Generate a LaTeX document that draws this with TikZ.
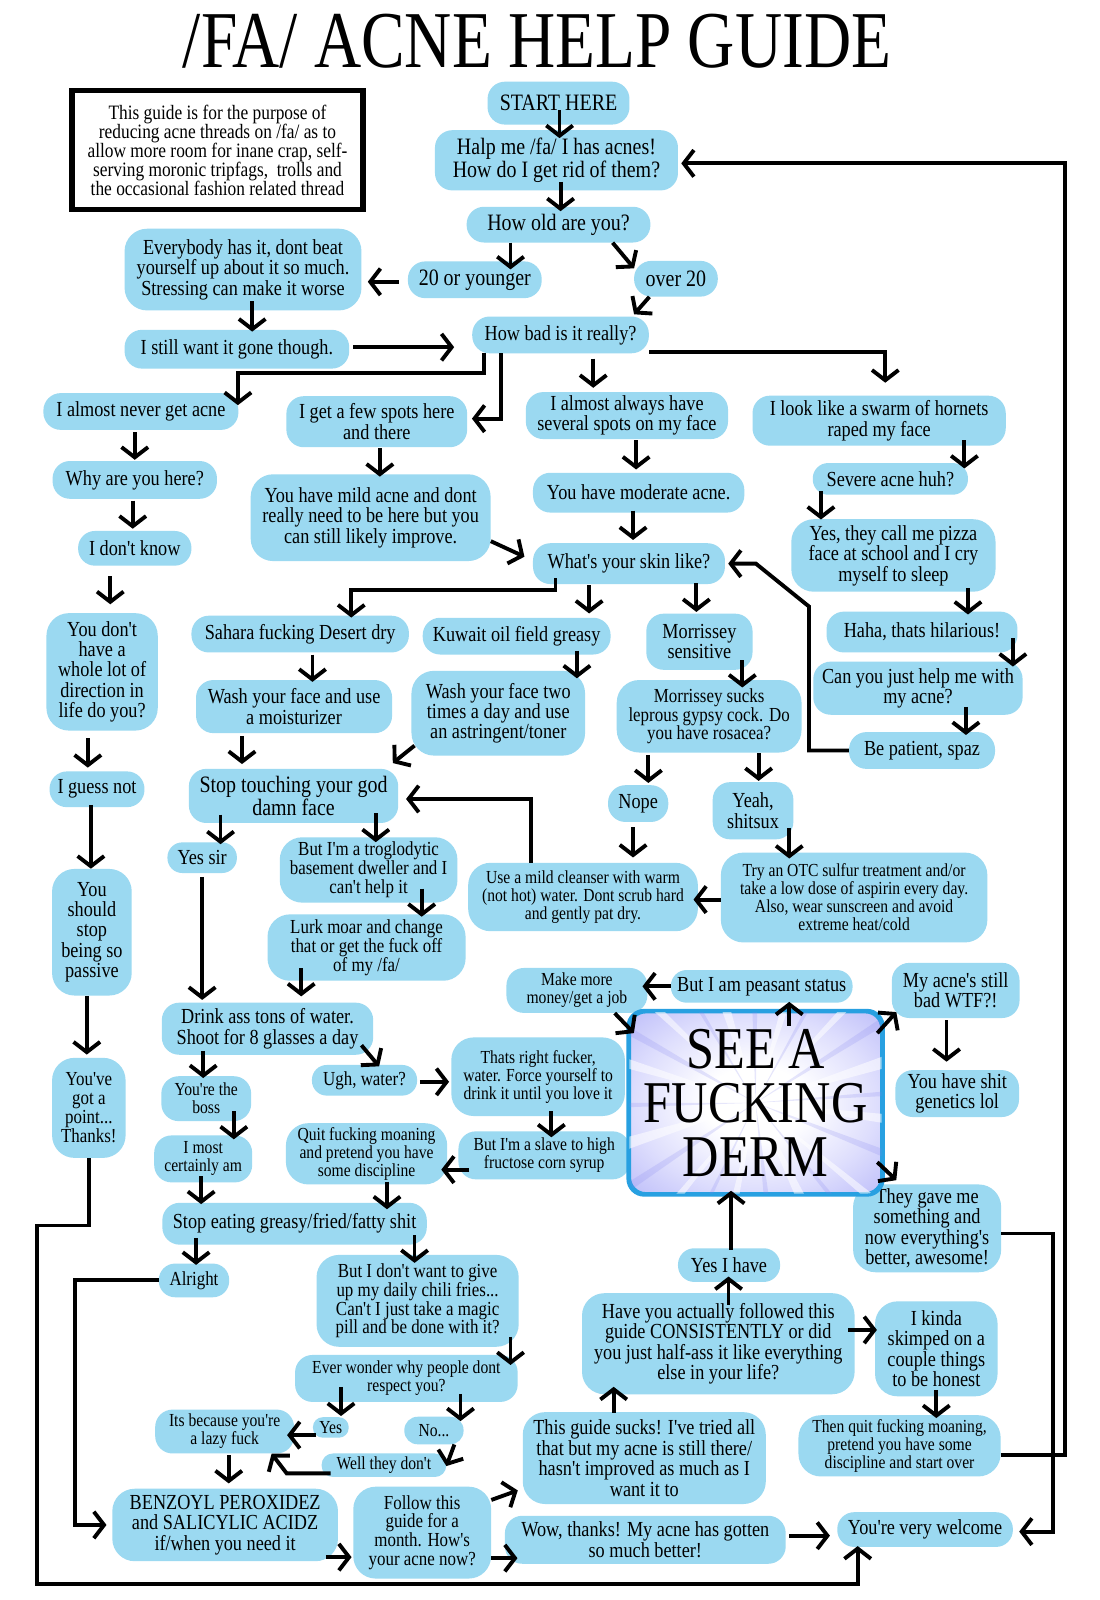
\documentclass[tikz,border=0pt]{standalone}
\usepackage{fontspec}
\setmainfont{Liberation Serif}[FakeStretch=0.85, Ligatures=TeXOff]
\newfontfamily\titlefont{Liberation Serif}[FakeStretch=0.81]
\usetikzlibrary{arrows.meta}
\definecolor{nodeblue}{RGB}{155,217,241}
\definecolor{dermblue}{RGB}{40,160,225}
\definecolor{dermviolet}{RGB}{178,178,248}
\definecolor{dermmid}{RGB}{222,222,253}
\definecolor{dermdeep}{RGB}{130,130,238}
\pgfdeclareradialshading{dermshade}{\pgfpoint{0bp}{0bp}}{color(0bp)=(white); color(10bp)=(white); color(24bp)=(dermmid); color(40bp)=(dermviolet); color(50bp)=(dermviolet)}
\newcommand\fszL{\fontsize{23}{22}\selectfont}
\newcommand\fszR{\fontsize{21}{20}\selectfont}
\newcommand\fszM{\fontsize{19.5}{18.5}\selectfont}
\newcommand\fszS{\fontsize{18}{17.6}\selectfont}
\newcommand\fszI{\fontsize{20}{18.6}\selectfont}
\newcommand\fszD{\fontsize{58}{53}\selectfont}
\newcommand\Bx[8][]{\node[bx,#1,font=#7,minimum width=#5pt,minimum height=#6pt] (#2) at (#3,#4) {#8};}
\newcommand\vArrow[5]{\draw[arr, shorten <=#4pt, shorten >=#5pt] ([xshift=#3pt]#1.south) -- ([xshift=#3pt]#1.south |- #2.north);}
\newcommand\uArrow[5]{\draw[arr, shorten <=#4pt, shorten >=#5pt] ([xshift=#3pt]#1.north) -- ([xshift=#3pt]#1.north |- #2.south);}
\begin{document}
\begin{tikzpicture}[x=1pt,y=-1pt,
  bx/.style={fill=nodeblue, rounded corners=17pt, inner sep=0pt, align=center, text=black},
  big/.style={rounded corners=22pt},
  arr/.style={line width=3.8pt, -{Straight Barb[length=10pt,width=26pt,line width=3.8pt]}}]
\fill[white] (0,0) rectangle (1077,1567);
\useasboundingbox (0,0) rectangle (1077,1567);

% title and info
\node[font=\titlefont\fontsize{79}{79}\selectfont, anchor=base, inner sep=0pt] (title) at (526,66) {/FA/ ACNE HELP GUIDE};
\node[draw, line width=5pt, fill=white, inner sep=0pt, minimum width=285pt, minimum height=116pt, align=center, font=\fszI] (info) at (213,147) {This guide is for the purpose of\\reducing acne threads on /fa/ as to\\allow more room for inane crap, self-\\serving moronic tripfags,\ \ trolls and\\the occasional fashion related thread};

% nodes
\Bx{start}{547}{101}{139}{42}{\fszL}{START HERE}
\Bx{halp}{545}{157}{238}{59}{\fszL}{Halp me /fa/ I has acnes!\\How do I get rid of them?}
\Bx{old}{547}{220}{180}{35}{\fszL}{How old are you?}
\Bx{young}{465}{274}{131}{36}{\fszL}{20 or younger}
\Bx{over}{662}{273}{82}{35}{\fszL}{over 20}
\Bx[big]{every}{238}{264}{232}{80}{\fszR}{Everybody has it, dont beat\\yourself up about it so much.\\Stressing can make it worse}
\Bx{still}{232}{342}{220}{38}{\fszR}{I still want it gone though.}
\Bx{bad}{549}{328}{173}{36}{\fszR}{How bad is it really?}
\Bx{never}{138}{403}{191}{36}{\fszR}{I almost never get acne}
\Bx{few}{369}{413}{177}{50}{\fszR}{I get a few spots here\\and there}
\Bx{always}{614}{407}{198}{46}{\fszR}{I almost always have\\several spots on my face}
\Bx{hornets}{861}{412}{248}{49}{\fszR}{I look like a swarm of hornets\\raped my face}
\Bx{why}{132}{470}{161}{37}{\fszR}{Why are you here?}
\Bx[rounded corners=15pt]{severe}{872}{469}{152}{31}{\fszR}{Severe acne huh?}
\Bx[rounded corners=16.5pt]{dontknow}{132}{537}{111}{34}{\fszR}{I don't know}
\Bx[big]{mild}{363}{507}{235}{85}{\fszR}{You have mild acne and dont\\really need to be here but you\\can still likely improve.}
\Bx{moderate}{625.5}{482.5}{207}{39}{\fszR}{You have moderate acne.}
\Bx[big]{pizza}{875}{544}{200}{71}{\fszR}{Yes, they call me pizza\\face at school and I cry\\myself to sleep}
\Bx{skin}{616}{552}{188}{40}{\fszR}{What's your skin like?}
\Bx{sahara}{294}{621}{213}{36}{\fszR}{Sahara fucking Desert dry}
\Bx{kuwait}{506}{623}{184}{36}{\fszR}{Kuwait oil field greasy}
\Bx{morrissey}{685}{628.5}{104}{55}{\fszR}{Morrissey\\sensitive}
\Bx{haha}{903}{619}{187}{40}{\fszR}{Haha, thats hilarious!}
\Bx[big]{direction}{100}{658}{109}{115}{\fszR}{You don't\\have a\\whole lot of\\direction in\\life do you?}
\Bx{moist}{288}{692}{192}{52}{\fszR}{Wash your face and use\\a moisturizer}
\Bx[big]{twice}{488}{698.5}{170}{83}{\fszR}{Wash your face two\\times a day and use\\an astringent/toner}
\Bx[big]{rosacea}{694.5}{701.5}{181}{71}{\fszM}{Morrissey sucks\\leprous gypsy cock. Do\\you have rosacea?}
\Bx{canyou}{899}{674}{205}{52}{\fszR}{Can you just help me with\\my acne?}
\Bx{patient}{903}{735}{143}{36}{\fszR}{Be patient, spaz}
\Bx{guessnot}{95}{773}{93}{35}{\fszR}{I guess not}
\Bx{touch}{287.5}{779.5}{205}{53}{\fszL}{Stop touching your god\\damn face}
\Bx{nope}{625}{787}{59}{36}{\fszR}{Nope}
\Bx{yeah}{737.5}{794}{79}{56}{\fszR}{Yeah,\\shitsux}
\Bx[rounded corners=14.5pt]{yessir}{198}{840}{68}{30}{\fszR}{Yes sir}
\Bx[big]{troglo}{361}{852}{174}{64}{\fszM}{But I'm a troglodytic\\basement dweller and I\\can't help it}
\Bx[big]{cleanser}{571}{878.5}{225}{67}{\fszS}{Use a mild cleanser with warm\\(not hot) water. Dont scrub hard\\and gently pat dry.}
\Bx[big]{otc}{836.5}{879}{261}{88}{\fszS}{Try an OTC sulfur treatment and/or\\take a low dose of aspirin every day.\\Also, wear sunscreen and avoid\\extreme heat/cold}
\Bx[big]{passive}{90}{913}{78}{124}{\fszR}{You\\should\\stop\\being so\\passive}
\Bx[big]{lurk}{359}{928}{194}{65}{\fszM}{Lurk moar and change\\that or get the fuck off\\of my /fa/}
\Bx{money}{565}{970}{138}{44}{\fszS}{Make more\\money/get a job}
\Bx[rounded corners=15.5pt]{peasant}{746}{966}{178}{32}{\fszR}{But I am peasant status}
\Bx{stillbad}{936}{970}{125}{54}{\fszR}{My acne's still\\bad WTF?!}
\Bx{drink}{262}{1007.5}{207}{51}{\fszR}{Drink ass tons of water.\\Shoot for 8 glasses a day}
\Bx[big]{point}{87}{1085}{72}{98}{\fszM}{You've\\got a\\point...\\Thanks!}
\Bx[rounded corners=14.5pt]{ugh}{357}{1058}{103}{30}{\fszM}{Ugh, water?}
\Bx[big]{fucker}{527}{1054.5}{170}{77}{\fszS}{Thats right fucker,\\water. Force yourself to\\drink it until you love it}
\Bx{genetics}{937.5}{1071}{121}{46}{\fszR}{You have shit\\genetics lol}
\Bx{boss}{202}{1076}{88}{44}{\fszS}{You're the\\boss}
\Bx{certainly}{199}{1135}{96}{46}{\fszS}{I most\\certainly am}
\Bx[big]{quit}{359}{1130}{158}{60}{\fszS}{Quit fucking moaning\\and pretend you have\\some discipline}
\Bx{slave}{533}{1131.5}{168}{47}{\fszS}{But I'm a slave to high\\fructose corn syrup}
\Bx[big]{gave}{908}{1203}{145}{86}{\fszR}{They gave me\\something and\\now everything's\\better, awesome!}
\Bx{greasy}{288.5}{1198.5}{259}{41}{\fszR}{Stop eating greasy/fried/fatty shit}
\Bx[rounded corners=16pt]{alright}{190}{1254}{69}{33}{\fszM}{Alright}
\Bx[big]{chili}{409}{1274}{198}{90}{\fszM}{But I don't want to give\\up my daily chili fries...\\Can't I just take a magic\\pill and be done with it?}
\Bx[rounded corners=16pt]{yeshave}{714}{1239}{100}{33}{\fszR}{Yes I have}
\Bx[big]{followed}{703.5}{1316}{267}{99}{\fszR}{Have you actually followed this\\guide CONSISTENTLY or did\\you just half-ass it like everything\\else in your life?}
\Bx[big]{kinda}{917}{1321}{120}{93}{\fszR}{I kinda\\skimped on a\\couple things\\to be honest}
\Bx{respect}{398}{1350}{218}{46}{\fszS}{Ever wonder why people dont\\respect you?}
\Bx{lazy}{220}{1402}{136}{43}{\fszS}{Its because you're\\a lazy fuck}
\Bx[rounded corners=9.5pt]{yes}{324}{1398}{35}{20}{\fszS}{Yes}
\Bx[rounded corners=13pt]{no}{425}{1401}{58}{27}{\fszS}{No...}
\Bx[rounded corners=11pt]{well}{376}{1435}{122}{23}{\fszS}{Well they don't}
\Bx[big]{sucks}{631}{1428}{238}{90}{\fszR}{This guide sucks! I've tried all\\that but my acne is still there/\\hasn't improved as much as I\\want it to}
\Bx[big]{startover}{881}{1416}{198}{60}{\fszS}{Then quit fucking moaning,\\pretend you have some\\discipline and start over}
\Bx[big]{benzoyl}{220.5}{1493.5}{221}{71}{\fszR}{BENZOYL PEROXIDEZ\\and SALICYLIC ACIDZ\\if/when you need it}
\Bx[big]{month}{413.5}{1501}{135}{90}{\fszM}{Follow this\\guide for a\\month. How's\\your acne now?}
\Bx{wow}{632}{1508}{275}{47}{\fszR}{Wow, thanks! My acne has gotten\\so much better!}
\Bx[rounded corners=16.5pt]{welcome}{906}{1498}{172}{34}{\fszR}{You're very welcome}

% derm box
\node[draw=dermblue, line width=3pt, rounded corners=16pt, shading=dermshade, minimum width=247pt, minimum height=178pt, inner sep=0pt] (dermbg) at (740,1080) {};
\begin{scope}
\clip[rounded corners=16pt] (dermbg.south west) rectangle (dermbg.north east);
\foreach \a/\w in {5/4,38/3,62/5,100/4,128/3,160/5,195/4,222/3,250/5,285/4,312/3,340/5}
  \fill[white, opacity=0.55] (dermbg.center) -- +(\a:190) -- +(\a+\w:190) -- cycle;
\foreach \a/\w in {20/3,50/2,82/3,115/2,145/3,178/2,208/3,238/2,268/3,298/2,326/3,355/2}
  \fill[dermdeep, opacity=0.2] (dermbg.center) -- +(\a:190) -- +(\a+\w:190) -- cycle;
\end{scope}
\draw[dermblue, line width=3pt, rounded corners=16pt] (dermbg.south west) rectangle (dermbg.north east);
\node[inner sep=0pt, minimum width=247pt, minimum height=178pt, align=center, font=\fszD] (derm) at (740,1080) {SEE A\\FUCKING\\DERM};

% arrows
\vArrow{start}{halp}{1}{-14}{-8}
\vArrow{halp}{old}{4}{-8.5}{-4.5}
\vArrow{old}{young}{-47}{0}{-8}
\draw[arr] ([xshift=53pt]old.south) -- ([xshift=-41pt,yshift=-7.5pt]over.north);
\draw[arr, shorten <=9pt, shorten >=6pt] ([yshift=-2pt]young.west) -- ([yshift=-2pt]young.west -| every.east);
\draw[arr] ([xshift=-26pt]over.south) -- ([xshift=72pt,yshift=2pt]bad.north);
\vArrow{every}{still}{9}{-9}{-2}
\draw[arr, shorten <=4pt, shorten >=17.5pt] ([yshift=2pt]still.east) -- ([yshift=2pt]still.east -| bad.west);
\draw[arr, shorten >=-12pt] ([xshift=-75pt]bad.south) -- ++(0,19) -| ([xshift=95pt]never.north);
\draw[arr, shorten >=4.5pt] ([xshift=-58pt]bad.south) |- ([yshift=3pt]few.east);
\vArrow{bad}{always}{32}{5}{4}
\draw[arr, shorten >=12.5pt] ([yshift=-17pt]bad.east) -| ([xshift=6pt]hornets.north);
\vArrow{never}{why}{-6}{2}{1}
\vArrow{why}{dontknow}{-2}{1.5}{2}
\vArrow{dontknow}{direction}{-24}{10}{8.5}
\vArrow{direction}{guessnot}{-14}{7.5}{3.5}
\vArrow{guessnot}{passive}{-6}{-2.5}{0}
\vArrow{passive}{point}{-5}{0}{3}
\draw[arr, shorten >=-1pt] (point.south) -- ++(0,66) -- ++(-51,0) -- ++(0,351) -| ([xshift=-66pt]welcome.south);
\vArrow{few}{mild}{3}{1}{-2.5}
\draw[arr, shorten >=9pt] ([yshift=-23pt]mild.east) -- ([yshift=3pt]skin.west);
\vArrow{always}{moderate}{9}{1}{3}
\vArrow{moderate}{skin}{-5.5}{-2}{3}
\vArrow{hornets}{severe}{83.5}{-5.5}{-5.5}
\vArrow{severe}{pizza}{-68}{-3.5}{-0.5}
\vArrow{pizza}{haha}{73}{-3.5}{-3}
\vArrow{haha}{canyou}{89}{-14}{-5}
\vArrow{canyou}{patient}{47}{-8}{-3}
\draw[arr, shorten >=3pt] (patient.west) -- ++(-39,0) -- ++(0,-141) -- ++(-52,-42) -- (skin.east);
\draw[arr, shorten <=-6pt, shorten >=-2pt] ([xshift=-72pt]skin.south) -- ++(0,6) -| ([xshift=50pt]sahara.north);
\vArrow{skin}{kuwait}{-39}{1}{4}
\vArrow{skin}{morrissey}{66}{-1}{1.5}
\vArrow{sahara}{moist}{12}{2}{-2}
\vArrow{kuwait}{twice}{59}{-4}{-7.5}
\vArrow{morrissey}{rosacea}{42}{-9.5}{-7.5}
\vArrow{moist}{touch}{-51}{3}{4.5}
\draw[arr] ([xshift=-82pt,yshift=10pt]twice.south) -- ([xshift=-5.5pt,yshift=5.5pt]touch.north east);
\vArrow{rosacea}{nope}{-59.5}{2.5}{2}
\vArrow{rosacea}{yeah}{48.5}{0.5}{1}
\vArrow{nope}{cleanser}{-5}{5}{5}
\vArrow{yeah}{otc}{35.5}{-11}{-6}
\draw[arr, shorten >=-4.5pt] ([yshift=-2pt]otc.west) -- ([yshift=-2pt]otc.west -| cleanser.east);
\draw[arr, shorten >=7.5pt] ([xshift=-51pt]cleanser.north) |- ([yshift=-3pt]touch.east);
\vArrow{touch}{yessir}{-71.5}{-8.5}{-2}
\vArrow{touch}{troglo}{80.5}{-9.5}{-5}
\vArrow{troglo}{lurk}{52}{-14}{-2.5}
\vArrow{yessir}{drink}{0}{3.5}{2.5}
\vArrow{lurk}{drink}{-64}{-12.5}{6}
\vArrow{drink}{boss}{-63}{-4}{-2}
\draw[arr, shorten >=-2pt] ([xshift=92pt,yshift=9.5pt]drink.south) -- ([xshift=13pt]ugh.north);
\draw[arr, shorten <=2.5pt, shorten >=2pt] ([yshift=-1.5pt]ugh.east) -- ([yshift=-1.5pt]ugh.east -| fucker.west);
\vArrow{fucker}{slave}{13}{-5}{-6}
\draw[arr, shorten <=-11pt, shorten >=-6pt] ([yshift=-14pt]slave.west) -- ([yshift=-14pt]slave.west -| quit.east);
\vArrow{boss}{certainly}{27}{-10}{-4}
\vArrow{certainly}{greasy}{-2}{-6}{-1.5}
\vArrow{quit}{greasy}{20}{-3}{-6.5}
\vArrow{greasy}{chili}{117.5}{-9.5}{-8}
\vArrow{greasy}{alright}{-96.5}{-6.5}{-1.5}
\draw[arr, shorten >=5.5pt] (alright.west) -- ++(-82,0) |- (benzoyl.west);
\vArrow{chili}{respect}{91}{-10}{-10}
\vArrow{respect}{yes}{-64}{-15}{1}
\vArrow{respect}{no}{53}{-8}{-4.5}
\draw[arr, shorten <=-3.5pt, shorten >=-7pt] ([yshift=-7.5pt]yes.west) -- ([yshift=-7.5pt]yes.west -| lazy.east);
\draw[arr] ([xshift=20pt]no.south) -- ([yshift=-12.5pt]well.north east);
\draw[arr, shorten <=-9pt] ([yshift=-8pt]well.west) -- ++(-34,0) -- ([xshift=46pt]lazy.south);
\vArrow{lazy}{benzoyl}{4}{1.5}{5}
\draw[arr, shorten <=-12pt, shorten >=1.5pt] ([yshift=-31.5pt]benzoyl.east) -- ([yshift=-31.5pt]benzoyl.east -| month.west);
\draw[arr, shorten >=5pt] ([yshift=32pt]month.east) -- ([yshift=-30pt]sucks.west);
\draw[arr, shorten >=-12.5pt] ([yshift=-25pt]month.east) -- ([yshift=-25pt]month.east -| wow.west);
\uArrow{sucks}{followed}{-30}{-1}{-7.5}
\uArrow{followed}{yeshave}{10}{-11.5}{-5.5}
\uArrow{yeshave}{derm}{2}{-1.5}{-3}
\draw[arr, shorten <=-6.5pt, shorten >=-2pt] ([yshift=13.5pt]followed.east) -- ([yshift=13.5pt]followed.east -| kinda.west);
\vArrow{kinda}{startover}{0}{-6.5}{-3}
\draw[arr, shorten >=3pt] ([yshift=-9pt]startover.east) -- ++(63,0) |- ([yshift=-3pt]halp.east);
\draw[arr, shorten >=6pt] ([yshift=-5pt]gave.east) -- ++(51,0) |- ([yshift=-2pt]welcome.east);
\draw[arr, shorten <=3.5pt, shorten >=7pt] ([yshift=4pt]wow.east) -- ([yshift=4pt]wow.east -| welcome.west);
\uArrow{derm}{peasant}{33}{-14}{-1}
\draw[arr, shorten >=-5pt] (peasant.west) -- (peasant.west -| money.east);
\draw[arr] ([xshift=37pt]money.south) -- ([xshift=4.5pt,yshift=-21pt]derm.north west);
\draw[arr] ([xshift=-4.5pt,yshift=-21pt]derm.north east) -- ([xshift=4.5pt,yshift=6pt]stillbad.south west);
\vArrow{stillbad}{genetics}{-9}{2}{8}
\draw[arr] ([xshift=-4.5pt,yshift=31pt]derm.south east) -- ([xshift=42.5pt,yshift=4pt]gave.north west);
\end{tikzpicture}
\end{document}
